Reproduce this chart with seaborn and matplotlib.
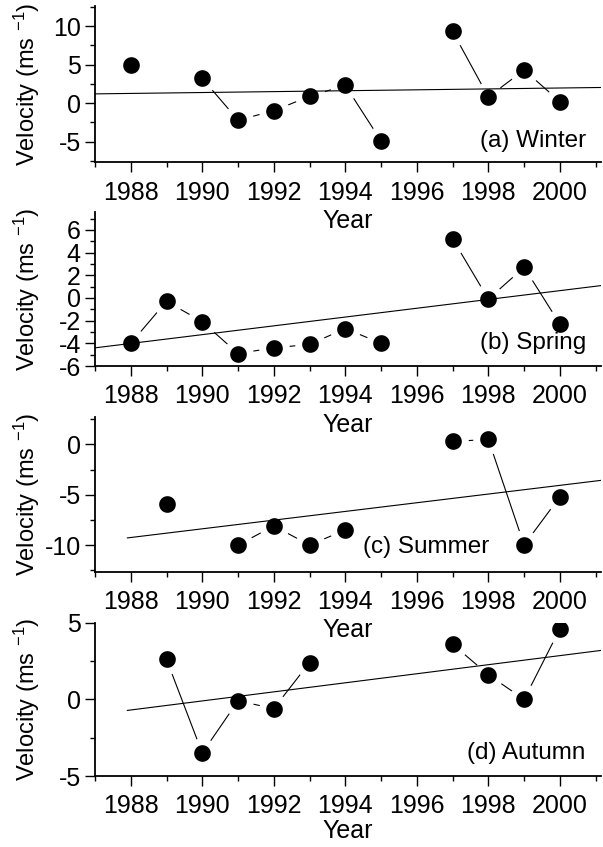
import numpy as np
import pandas as pd
import seaborn as sns
import matplotlib.pyplot as plt
from matplotlib.ticker import MultipleLocator

# wind velocity per season, years with no data are left out
years_winter = [1988, 1990, 1991, 1992, 1993, 1994, 1995, 1997, 1998, 1999, 2000]
vel_winter = [5.0, 3.2, -2.2, -1.0, 0.9, 2.3, -4.9, 9.3, 0.8, 4.3, 0.2]

years_spring = [1988, 1989, 1990, 1991, 1992, 1993, 1994, 1995, 1997, 1998, 1999, 2000]
vel_spring = [-4.0, -0.3, -2.1, -4.9, -4.4, -4.1, -2.7, -4.0, 5.2, -0.1, 2.7, -2.3]

years_summer = [1989, 1991, 1992, 1993, 1994, 1997, 1998, 1999, 2000]
vel_summer = [-5.9, -10.0, -8.1, -10.0, -8.5, 0.3, 0.5, -10.0, -5.2]

years_autumn = [1989, 1990, 1991, 1992, 1993, 1997, 1998, 1999, 2000]
vel_autumn = [2.6, -3.5, -0.1, -0.6, 2.4, 3.6, 1.6, 0.0, 4.6]

labels = ["(a) Winter", "(b) Spring", "(c) Summer", "(d) Autumn"]

sns.set_theme(style="ticks")
plt.rcParams["font.family"] = ["Liberation Sans", "DejaVu Sans"]
plt.rcParams["mathtext.fontset"] = "custom"
plt.rcParams["mathtext.rm"] = "Liberation Sans"
plt.rcParams["mathtext.default"] = "regular"
plt.rcParams["axes.unicode_minus"] = False

panels = [
    dict(x=years_winter, y=vel_winter, label=labels[0], ylim=(-7.7, 12.6), major=5, minor=2.5,
         box=[95, 6, 162.5], fit_start=1987.0, txt=(0.97, 0.137), lpad=3),
    dict(x=years_spring, y=vel_spring, label=labels[1], ylim=(-6, 7.6), major=2, minor=1,
         box=[95, 211.7, 366], fit_start=1987.0, txt=(0.97, 0.149), lpad=3),
    dict(x=years_summer, y=vel_summer, label=labels[2], ylim=(-12.65, 2.7), major=5, minor=2.5,
         box=[95, 417.3, 571.7], fit_start=1987.9, txt=(0.78, 0.162), lpad=3),
    dict(x=years_autumn, y=vel_autumn, label=labels[3], ylim=(-5, 5), major=5, minor=2.5,
         box=[95, 622.7, 776], fit_start=1987.9, txt=(0.97, 0.15), lpad=0.5),
]

W, H = 603, 847
fig = plt.figure(figsize=(W / 100, H / 100), dpi=100)

for p in panels:
    left, top, bottom = p["box"]
    ax = fig.add_axes([left / W, 1 - bottom / H, (601 - left) / W, (bottom - top) / H])
    ax.set_facecolor("none")

    df = pd.DataFrame({"year": p["x"], "vel": p["y"]})
    # consecutive years are joined, gaps break the line
    df["run"] = (df["year"].diff() != 1).cumsum()

    sns.lineplot(data=df, x="year", y="vel", units="run", estimator=None,
                 color="black", linewidth=0.8, ax=ax, zorder=2)
    sns.scatterplot(data=df, x="year", y="vel", color="black", s=17 ** 2,
                    edgecolor="white", linewidth=5, ax=ax, zorder=3)

    # linear trend
    slope, icpt = np.polyfit(df["year"], df["vel"], 1)
    xs = np.array([p["fit_start"], 2001.5])
    ax.plot(xs, slope * xs + icpt, color="black", linewidth=0.8, zorder=4)

    ax.set_xlim(1987, 2001.15)
    ax.set_ylim(*p["ylim"])
    ax.xaxis.set_major_locator(MultipleLocator(2))
    ax.xaxis.set_minor_locator(MultipleLocator(1))
    ax.yaxis.set_major_locator(MultipleLocator(p["major"]))
    ax.yaxis.set_minor_locator(MultipleLocator(p["minor"]))
    ax.tick_params(which="major", direction="out", length=7.2, width=1, labelsize=18,
                   color="black", labelcolor="black", pad=3)
    ax.tick_params(which="minor", direction="out", length=3.6, width=1, color="black")
    ax.tick_params(axis="x", which="both", pad=6)

    sns.despine(ax=ax)
    for s in ["left", "bottom"]:
        ax.spines[s].set_linewidth(1.3)
        ax.spines[s].set_color("black")
        ax.spines[s].set_zorder(5)

    ax.set_xlabel("Year", fontsize=18, color="black", labelpad=p["lpad"])
    ax.set_ylabel("Velocity (ms $^{-1}$)", fontsize=17, color="black")
    ax.yaxis.set_label_coords(-0.105, 0.5)

    ax.text(p["txt"][0], p["txt"][1], p["label"], transform=ax.transAxes,
            ha="right", va="center", fontsize=17.5, color="black")

fig.savefig("out.png", dpi=100)
